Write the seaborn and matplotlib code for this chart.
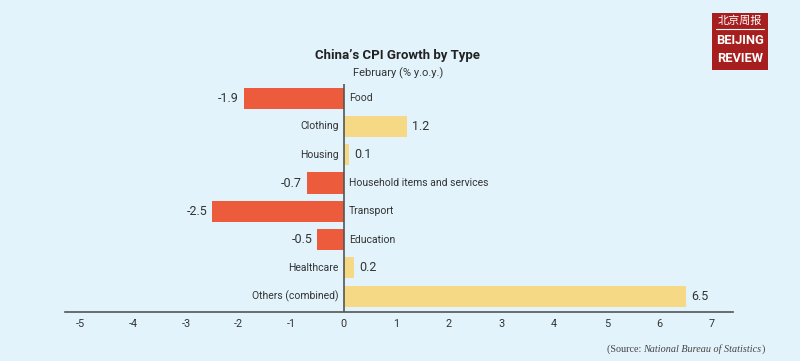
import matplotlib
matplotlib.use("Agg")
import matplotlib.pyplot as plt
import seaborn as sns
import pandas as pd
from matplotlib.patches import Rectangle

categories = ["Food", "Clothing", "Housing", "Household items and services",
              "Transport", "Education", "Healthcare", "Others (combined)"]
values = [-1.9, 1.2, 0.1, -0.7, -2.5, -0.5, 0.2, 6.5]
value_labels = ["-1.9", "1.2", "0.1", "-0.7", "-2.5", "-0.5", "0.2", "6.5"]
xticks = [-5, -4, -3, -2, -1, 0, 1, 2, 3, 4, 5, 6, 7]

title = "China\u2019s CPI Growth by Type"
subtitle = "February (% y.o.y.)"

BG = "#E2F3FB"
RED = "#EC5B3B"
YELLOW = "#F6D985"
TEXT = "#333333"

sns.set_theme(style="white")
plt.rcParams["font.family"] = ["Roboto", "DejaVu Sans"]

df = pd.DataFrame({"category": categories, "value": values})
df["sign"] = ["neg" if v < 0 else "pos" for v in values]

fig = plt.figure(figsize=(8, 3.61), dpi=100)
fig.patch.set_facecolor(BG)
ax = fig.add_axes([0.08125, 0.1357, 0.835, 0.6315])
ax.set_facecolor(BG)

sns.barplot(data=df, x="value", y="category", hue="sign",
            palette={"neg": RED, "pos": YELLOW}, dodge=False, legend=False,
            width=0.75, ax=ax, saturation=1, edgecolor="none")

ax.set_xlim(-5.3, 7.4)
ax.set_ylim(7.56, -0.5)
ax.set_xticks(xticks)
ax.set_xticklabels([str(t) for t in xticks], fontsize=7.8, color=TEXT)
ax.set_yticks([])
ax.set_xlabel("")
ax.set_ylabel("")
ax.tick_params(axis="x", length=0, pad=5)
for s in ["top", "right", "left"]:
    ax.spines[s].set_visible(False)
ax.spines["bottom"].set_color("#555555")
ax.spines["bottom"].set_linewidth(1.2)
ax.axvline(0, color="#555555", lw=1.2, zorder=3)

for i, (v, lab, cat) in enumerate(zip(values, value_labels, categories)):
    if v < 0:
        ax.text(v - 0.1, i, lab, ha="right", va="center", fontsize=9, color=TEXT)
        ax.text(0.1, i, cat, ha="left", va="center", fontsize=7.5, color=TEXT)
    else:
        ax.text(v + 0.1, i, lab, ha="left", va="center", fontsize=9, color=TEXT)
        ax.text(-0.1, i, cat, ha="right", va="center", fontsize=7.5, color=TEXT)

fig.text(0.497, 0.845, title, ha="center", va="center", fontsize=9.5,
         fontweight="bold", color="#222222")
fig.text(0.441, 0.796, subtitle, ha="left", va="center", fontsize=8, color=TEXT)

# source, right end at x ~ 765 px
fig.canvas.draw()
renderer = fig.canvas.get_renderer()
parts = [("(Source: ", "normal"), ("National Bureau of Statistics", "italic"), (")", "normal")]
texts = []
for s, st in parts:
    t = fig.text(0, 0.033, s, ha="left", va="center", fontsize=7.3,
                 family="Liberation Serif", style=st, color="#444444")
    texts.append(t)
widths = [t.get_window_extent(renderer).width for t in texts]
x = 765 - sum(widths)
for t, w in zip(texts, widths):
    t.set_x(x / fig.bbox.width)
    x += w

# logo
fig.patches.append(Rectangle((712 / 800, 1 - 70 / 361), 56 / 800, 57 / 361,
                             transform=fig.transFigure, facecolor="#A71E1E",
                             edgecolor="none"))
fig.text(740 / 800, 1 - 21 / 361, "北京周报", ha="center", va="center", fontsize=8,
         color="white", family=["Noto Sans CJK SC", "DejaVu Sans"])
fig.lines.append(plt.Line2D([716 / 800, 764 / 800], [1 - 29 / 361, 1 - 29 / 361],
                            transform=fig.transFigure, color="white", lw=0.8))
fig.text(740 / 800, 1 - 41 / 361, "BEIJING", ha="center", va="center", fontsize=9.3,
         color="white", fontweight="bold", family="Roboto")
fig.text(740 / 800, 1 - 59 / 361, "REVIEW", ha="center", va="center", fontsize=9.3,
         color="white", fontweight="bold", family="Roboto")

fig.savefig("out.png", dpi=100, facecolor=BG)
